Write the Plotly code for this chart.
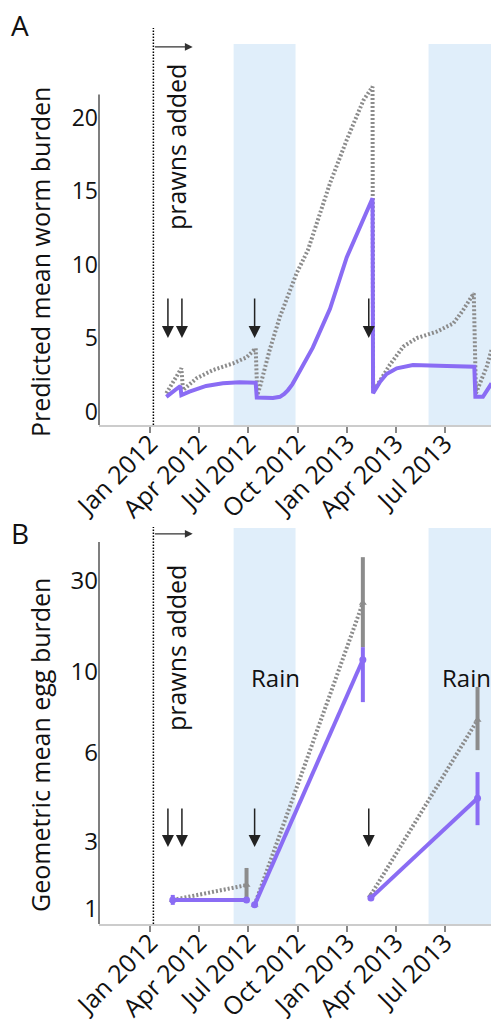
import numpy as np
import plotly.graph_objects as go

W, H = 496, 1028

# ---------------- Panel A: predicted mean worm burden ----------------
worm_purple_dates = ['2012-01-31', '2012-02-26', '2012-02-28', '2012-03-14', '2012-04-14',
                     '2012-05-15', '2012-06-15', '2012-07-15', '2012-07-17', '2012-08-16',
                     '2012-08-29', '2012-09-06', '2012-09-13', '2012-09-21', '2012-09-29',
                     '2012-10-14', '2012-10-29', '2012-11-30', '2012-12-31', '2013-02-17',
                     '2013-02-18', '2013-03-03', '2013-03-15', '2013-04-03', '2013-05-03',
                     '2013-07-05', '2013-08-25', '2013-08-27', '2013-09-10', '2013-09-26']
worm_purple_vals = [1.0, 1.74, 1.12, 1.35, 1.74,
                    1.92, 1.99, 1.96, 0.95, 0.92,
                    1.0, 1.2, 1.46, 1.85, 2.37,
                    3.35, 4.35, 7.0, 10.5, 14.53,
                    1.24, 2.03, 2.55, 2.94, 3.17,
                    3.1, 3.05, 1.0, 1.0, 1.92]

worm_gray_dates = ['2012-01-31', '2012-02-28', '2012-03-02', '2012-03-27', '2012-04-27',
                   '2012-06-03', '2012-06-28', '2012-07-15', '2012-07-18', '2012-07-23',
                   '2012-08-10', '2012-08-29', '2012-09-29', '2012-10-20', '2012-11-30',
                   '2012-12-31', '2013-01-31', '2013-02-17', '2013-02-18', '2013-02-24',
                   '2013-03-21', '2013-04-15', '2013-05-10', '2013-06-16', '2013-07-17',
                   '2013-08-04', '2013-08-24', '2013-08-28', '2013-09-17', '2013-09-26']
worm_gray_vals = [1.24, 2.94, 1.46, 2.26, 2.83,
                  3.28, 3.69, 4.3, 1.12, 1.69,
                  4.2, 6.46, 9.42, 11.0, 15.55,
                  18.5, 21.2, 22.13, 1.5, 1.69,
                  3.17, 4.42, 5.0, 5.44, 6.0,
                  6.9, 8.05, 1.24, 3.05, 4.19]

worm_ticks = [0, 5, 10, 15, 20]

# ---------------- Panel B: geometric mean egg burden ----------------
egg_dates = ['2012-02-12', '2012-06-28', None, '2012-07-13', '2013-01-30', None,
             '2013-02-14', '2013-08-31']
egg_purple_vals = [1.16, 1.16, None, 1.07, 11.6, None, 1.2, 4.22]
egg_purple_hi = [1.26, 1.16, None, 1.07, 13.5, None, 1.2, 5.17]
egg_purple_lo = [1.07, 1.16, None, 1.07, 8.27, None, 1.2, 3.42]
egg_gray_vals = [1.16, 1.48, None, 1.07, 23.0, None, 1.26, 7.39]
egg_gray_hi = [1.16, 1.96, None, 1.07, 40.0, None, 1.26, 9.1]
egg_gray_lo = [1.16, 1.16, None, 1.07, 13.5, None, 1.26, 6.11]

egg_tick_vals = [1, 3, 6, 10, 30]
egg_tick_labels = ['1', '3', '6', '10', '30']
# the reference's egg axis is not evenly logarithmic: axis units where each label sits
egg_tick_pos = [15, 82, 171, 252, 343]

# ---------------- shared x axis ----------------
x_tick_dates = ['2012-01-01', '2012-04-01', '2012-07-01', '2012-10-01',
                '2013-01-01', '2013-04-01', '2013-07-01']
x_tick_labels = ['Jan 2012', 'Apr 2012', 'Jul 2012', 'Oct 2012',
                 'Jan 2013', 'Apr 2013', 'Jul 2013']
x_range = ['2011-09-28', '2013-09-25']
rain_periods = [('2012-06-04', '2012-09-27'), ('2013-06-01', '2013-09-26')]
prawns_date = '2012-01-07'
prawns_arrow_end = '2012-03-20'
treatment_dates = ['2012-02-03', '2012-02-29', '2012-07-13', '2013-02-10']

PURPLE = '#8a6cf4'
GRAY = '#8c8c8c'
SHADE = 'rgba(100,170,230,0.2)'
FONT = 'Open Sans, Noto Sans, sans-serif'


def egg_scale(v):
    """Piecewise-log scale through the reference's tick labels (extrapolated at ends)."""
    if v is None:
        return None
    lv = np.log(egg_tick_vals)
    lp = np.array(egg_tick_pos, dtype=float)
    x = np.log(v)
    if x <= lv[0]:
        i = 0
    elif x >= lv[-1]:
        i = len(lv) - 2
    else:
        i = int(np.searchsorted(lv, x) - 1)
    return float(lp[i] + (x - lv[i]) * (lp[i + 1] - lp[i]) / (lv[i + 1] - lv[i]))


def py(p):  # pixel row -> paper y
    return 1 - p / H


def px(p):  # pixel column -> paper x
    return p / W


fig = go.Figure()

# Panel A traces
fig.add_trace(go.Scatter(x=worm_gray_dates, y=worm_gray_vals, mode='lines',
                         line=dict(color=GRAY, width=4, dash='2px,2px'),
                         xaxis='x', yaxis='y', showlegend=False))
fig.add_trace(go.Scatter(x=worm_purple_dates, y=worm_purple_vals, mode='lines',
                         line=dict(color=PURPLE, width=4),
                         xaxis='x', yaxis='y', showlegend=False))


# Panel B traces
def err(vals, hi, lo):
    s = [egg_scale(v) for v in vals]
    plus = [0 if v is None else egg_scale(h) - egg_scale(v) for v, h in zip(vals, hi)]
    minus = [0 if v is None else egg_scale(v) - egg_scale(l) for v, l in zip(vals, lo)]
    return s, plus, minus


gs, gp, gm = err(egg_gray_vals, egg_gray_hi, egg_gray_lo)
fig.add_trace(go.Scatter(x=egg_dates, y=gs, mode='lines+markers',
                         line=dict(color=GRAY, width=4, dash='2px,2px'),
                         marker=dict(color=GRAY, size=7, symbol='triangle-up'),
                         error_y=dict(type='data', array=gp, arrayminus=gm, symmetric=False,
                                      color=GRAY, thickness=4, width=0),
                         connectgaps=False, xaxis='x2', yaxis='y2', showlegend=False))
ps, pp, pm = err(egg_purple_vals, egg_purple_hi, egg_purple_lo)
fig.add_trace(go.Scatter(x=egg_dates, y=ps, mode='lines+markers',
                         line=dict(color=PURPLE, width=4),
                         marker=dict(color=PURPLE, size=7),
                         error_y=dict(type='data', array=pp, arrayminus=pm, symmetric=False,
                                      color=PURPLE, thickness=4, width=0),
                         connectgaps=False, xaxis='x2', yaxis='y2', showlegend=False))

# Layout geometry (pixels)
A_top, A_bot = 44, 425
B_top, B_bot = 528, 924
x_dom = [px(99), px(491)]

xcommon = dict(type='date', range=x_range, tickmode='array', tickvals=x_tick_dates,
               ticktext=x_tick_labels, tickangle=-45, ticks='outside', ticklen=6,
               tickwidth=1.5, tickcolor='#888888', showline=True, linecolor='#cccccc',
               linewidth=2, showgrid=False, zeroline=False, automargin=False,
               tickfont=dict(family=FONT, size=25, color='#111111'), domain=x_dom)

fig.update_layout(
    width=W, height=H, margin=dict(l=0, r=0, t=0, b=0),
    paper_bgcolor='white', plot_bgcolor='rgba(0,0,0,0)',
    font=dict(family=FONT, color='#111111'),
    xaxis=dict(anchor='y', **xcommon),
    yaxis=dict(anchor='x', domain=[py(A_bot), py(A_top)], range=[-0.92, 25.04],
               tickmode='array', tickvals=worm_ticks, ticks='', showline=False,
               showgrid=False, zeroline=False, automargin=False,
               tickfont=dict(family=FONT, size=23, color='#111111')),
    xaxis2=dict(anchor='y2', **xcommon),
    yaxis2=dict(anchor='x2', domain=[py(B_bot), py(B_top)], range=[0, B_bot - B_top],
                tickmode='array', tickvals=[egg_scale(v) for v in egg_tick_vals],
                ticktext=egg_tick_labels, ticks='', showline=False, showgrid=False,
                zeroline=False, automargin=False,
                tickfont=dict(family=FONT, size=24, color='#111111')),
)
# pull the rotated date labels in toward the axis, as in the reference
try:
    fig.update_xaxes(ticklabelstandoff=-14)
except ValueError:
    pass

shapes = []
for a, b in rain_periods:
    shapes.append(dict(type='rect', xref='x', yref='paper', x0=a, x1=b,
                       y0=py(A_bot), y1=py(A_top), fillcolor=SHADE, line=dict(width=0),
                       layer='below'))
    shapes.append(dict(type='rect', xref='x2', yref='paper', x0=a, x1=b,
                       y0=py(B_bot), y1=py(B_top), fillcolor=SHADE, line=dict(width=0),
                       layer='below'))
# prawns-added dotted lines
shapes.append(dict(type='line', xref='x', yref='paper', x0=prawns_date, x1=prawns_date,
                   y0=py(A_bot), y1=py(28), line=dict(color='black', width=1.5, dash='1.5px,1.5px')))
shapes.append(dict(type='line', xref='x2', yref='paper', x0=prawns_date, x1=prawns_date,
                   y0=py(B_bot), y1=py(527), line=dict(color='black', width=1.5, dash='1.5px,1.5px')))
# y axis lines (partial height as in the reference)
shapes.append(dict(type='line', xref='x domain', yref='y', x0=0, x1=0, y0=-0.92, y1=21.6,
                   line=dict(color='#555555', width=1.5)))
shapes.append(dict(type='line', xref='x2 domain', yref='y2', x0=0, x1=0, y0=0,
                   y1=egg_scale(48), line=dict(color='#555555', width=1.5)))
fig.update_layout(shapes=shapes)


def label(text, x, y, size, angle=0):
    return dict(text=text, x=px(x), y=py(y), xref='paper', yref='paper', showarrow=False,
                xanchor='center', yanchor='middle', textangle=angle,
                font=dict(size=size, family=FONT, color='#111111'))


ann = [
    label('A', 20, 25, 28),
    label('B', 20, 533, 28),
    label('Predicted mean worm burden', 40, 262, 25, -90),
    label('Geometric mean egg burden', 40, 745, 25, -90),
    label('prawns added', 176, 147, 25, -90),
    label('prawns added', 176, 648, 25, -90),
    label('Rain', 275, 677, 24),
    label('Rain', 466, 677, 24),
]
# prawns-added arrows
ann.append(dict(text='', x=prawns_arrow_end, y=24.84, xref='x', yref='y', ax=prawns_date,
                ay=24.84, axref='x', ayref='y', showarrow=True, arrowhead=2, arrowsize=1.2,
                arrowwidth=1.3, arrowcolor='#333333'))
ann.append(dict(text='', x=prawns_arrow_end, y=egg_scale(53), xref='x2', yref='y2',
                ax=prawns_date, ay=egg_scale(53), axref='x2', ayref='y2', showarrow=True,
                arrowhead=2, arrowsize=1.2, arrowwidth=1.3, arrowcolor='#333333'))
# treatment arrows
for d in treatment_dates:
    ann.append(dict(text='', x=d, y=5.0, xref='x', yref='y', ax=0, ay=-41, showarrow=True,
                    arrowhead=2, arrowsize=1.6, arrowwidth=1.5, arrowcolor='#222222'))
    ann.append(dict(text='', x=d, y=egg_scale(2.76), xref='x2', yref='y2', ax=0, ay=-40,
                    showarrow=True, arrowhead=2, arrowsize=1.6, arrowwidth=1.5,
                    arrowcolor='#222222'))
fig.update_layout(annotations=ann)

fig.write_html('out.html')
